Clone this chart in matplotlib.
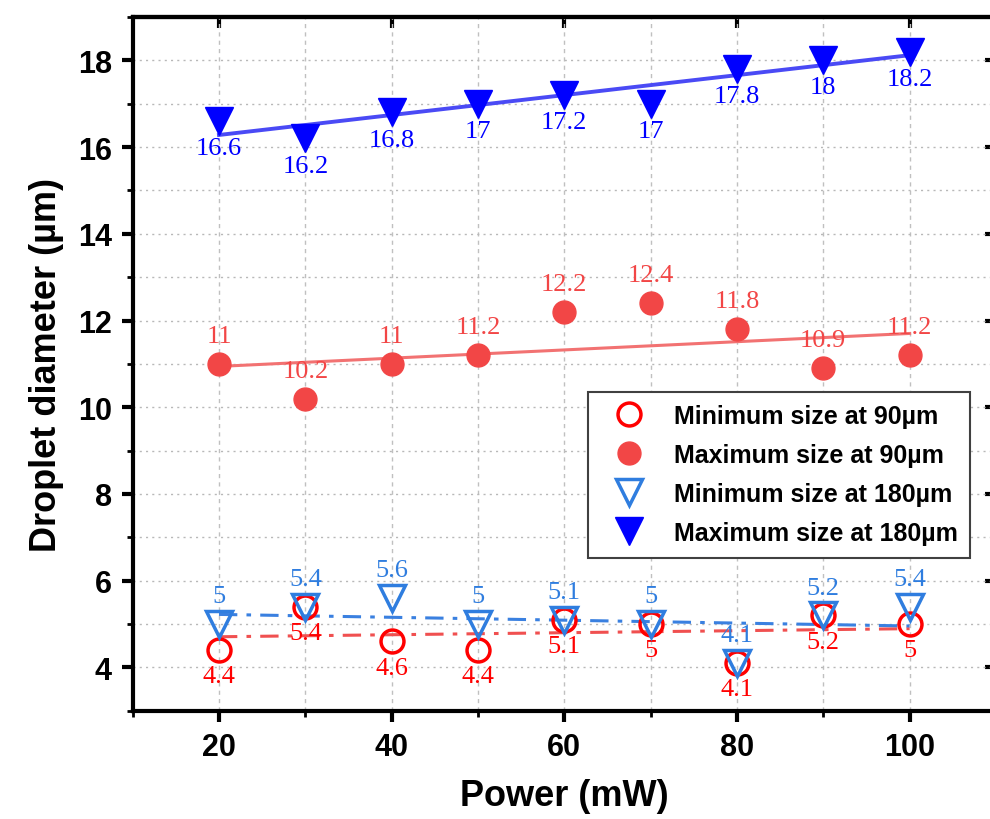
import numpy as np
import matplotlib.pyplot as plt
from matplotlib.ticker import MultipleLocator

power = [20, 30, 40, 50, 60, 70, 80, 90, 100]
min_90 = [4.4, 5.4, 4.6, 4.4, 5.1, 5, 4.1, 5.2, 5]
max_90 = [11, 10.2, 11, 11.2, 12.2, 12.4, 11.8, 10.9, 11.2]
min_180 = [5, 5.4, 5.6, 5, 5.1, 5, 4.1, 5.2, 5.4]
max_180 = [16.6, 16.2, 16.8, 17, 17.2, 17, 17.8, 18, 18.2]

fig = plt.figure(figsize=(9.9, 8.2), dpi=100)
ax = fig.add_axes([0.134, 0.132, 0.872, 0.846])

x = np.array(power, dtype=float)

def fit_line(y, color, ls, lw):
    k, b = np.polyfit(x, y, 1)
    ax.plot(x[[0, -1]], k * x[[0, -1]] + b, color=color, ls=ls, lw=lw, zorder=2)

# linie trendu
fit_line(min_90, '#f05050', (0, (6, 3, 1.5, 3)), 2.2)
fit_line(min_180, '#3a80e0', (0, (6, 3, 1.5, 3)), 2.2)
fit_line(max_90, '#f27272', '-', 2.2)
fit_line(max_180, '#4a4af5', '-', 2.8)

ax.plot(power, min_90, 'o', ms=16.5, mfc='none', mec='#ff0000', mew=2.5, ls='none',
        label='Minimum size at 90µm', zorder=3)
ax.plot(power, max_90, 'o', ms=16.5, mfc='#f24646', mec='#f24646', ls='none',
        label='Maximum size at 90µm', zorder=3)
ax.plot(power, min_180, 'v', ms=19, mfc='none', mec='#2f7ddf', mew=2.5, ls='none',
        label='Minimum size at 180µm', zorder=4)
ax.plot(power, max_180, 'v', ms=20, mfc='#0000ff', mec='#0000ff', ls='none',
        label='Maximum size at 180µm', zorder=4)

# etykiety wartosci
lab_font = dict(family='Liberation Serif', fontsize=19, ha='center', va='center')
for xi, v in zip(power, min_90):
    ax.annotate(f'{v:g}', (xi, v), xytext=(0, -19), textcoords='offset points',
                color='#ff0000', **lab_font)
for xi, v in zip(power, max_90):
    ax.annotate(f'{v:g}', (xi, v), xytext=(0, 20), textcoords='offset points',
                color='#f24646', **lab_font)
for xi, v in zip(power, min_180):
    ax.annotate(f'{v:g}', (xi, v), xytext=(0, 20), textcoords='offset points',
                color='#2f7ddf', **lab_font)
for xi, v in zip(power, max_180):
    ax.annotate(f'{v:g}', (xi, v), xytext=(0, -19.5), textcoords='offset points',
                color='#0000ff', **lab_font)

ax.set_xlim(10, 110)
ax.set_ylim(3, 19)
ax.xaxis.set_major_locator(MultipleLocator(20))
ax.xaxis.set_minor_locator(MultipleLocator(10))
ax.yaxis.set_major_locator(MultipleLocator(2))
ax.yaxis.set_minor_locator(MultipleLocator(1))

ax.grid(True, which='both', axis='y', color='#b8b8b8', ls=(0, (1.5, 3)), lw=1)
ax.grid(True, which='both', axis='x', color='#c0c0c0', ls=(0, (3, 3)), lw=1)
ax.set_axisbelow(True)

for s in ax.spines.values():
    s.set_linewidth(3)
ax.tick_params(which='major', direction='out', length=8, width=3,
               labelsize=22, pad=7)
ax.tick_params(which='minor', direction='out', length=4, width=2)
for t in ax.get_xticklabels() + ax.get_yticklabels():
    t.set_fontweight('bold')
    t.set_family('Liberation Sans')

# gorne i prawe ticki do wewnatrz
top = ax.secondary_xaxis('top')
top.xaxis.set_major_locator(MultipleLocator(20))
top.tick_params(direction='in', length=8, width=3, labeltop=False)
top.spines['top'].set_linewidth(3)
right = ax.secondary_yaxis('right')
right.yaxis.set_major_locator(MultipleLocator(2))
right.tick_params(direction='in', length=8, width=3, labelright=False)
right.spines['right'].set_linewidth(3)

ax.set_xlabel('Power (mW)', fontsize=26, fontweight='bold', family='Liberation Sans', labelpad=12)
ax.set_ylabel('Droplet diameter (µm)', fontsize=26, fontweight='bold', family='Liberation Sans', labelpad=10)

leg = ax.legend(loc='upper left', bbox_to_anchor=(0.527, 0.46), borderaxespad=0,
                frameon=True, fancybox=False, edgecolor='#404040', framealpha=1,
                prop=dict(family='Liberation Sans', weight='bold', size=18),
                handlelength=2.3, handletextpad=0.64, labelspacing=0.6, borderpad=0.5)
leg.get_frame().set_linewidth(1.5)

plt.savefig('out.png', dpi=100)
